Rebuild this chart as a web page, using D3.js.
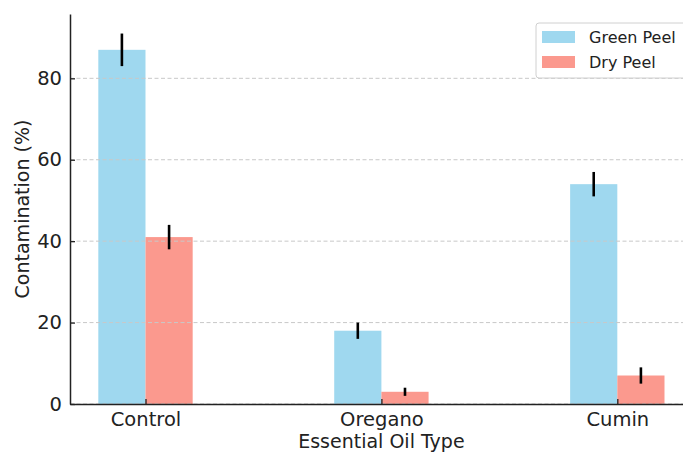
<!DOCTYPE html>
<html>
<head>
<meta charset="utf-8">
<script src="https://cdn.jsdelivr.net/npm/d3@7/dist/d3.min.js"></script>
<style>
  html, body { margin: 0; padding: 0; background: #fff; }
  svg { display: block; font-family: "DejaVu Sans", sans-serif; }
</style>
</head>
<body>
<svg id="chart" width="683" height="452"></svg>
<script>
// Contamination by essential oil treatment, green vs dry peel
const categories = ["Control", "Oregano", "Cumin"];
const greenPeel = [87, 18, 54];
const greenPeelErr = [4, 2, 3];
const dryPeel = [41, 3, 7];
const dryPeelErr = [3, 1, 2];
const yTicks = [0, 20, 40, 60, 80];
const seriesNames = ["Green Peel", "Dry Peel"];
const seriesColors = ["#9fd8ef", "#fb998e"];

const svg = d3.select("#chart");
const plotLeft = 70, plotRight = 692.8, plotTop = 14, plotBottom = 404;
const barW = 0.2;

const x = d3.scaleLinear().domain([-0.32, 2.32]).range([plotLeft, plotRight]);
const y = d3.scaleLinear().domain([0, 95.8]).range([plotBottom, plotTop]);

const series = [
  { name: seriesNames[0], values: greenPeel, err: greenPeelErr, offset: -barW / 2, color: seriesColors[0] },
  { name: seriesNames[1], values: dryPeel, err: dryPeelErr, offset: barW / 2, color: seriesColors[1] }
];

// bars
series.forEach(s => {
  svg.append("g").selectAll("rect")
    .data(s.values)
    .join("rect")
    .attr("x", (d, i) => x(i + s.offset - barW / 2))
    .attr("width", x(barW) - x(0))
    .attr("y", d => y(d))
    .attr("height", d => y(0) - y(d))
    .attr("fill", s.color);
});

// dashed horizontal grid
svg.append("g").selectAll("line")
  .data(yTicks)
  .join("line")
  .attr("x1", plotLeft).attr("x2", plotRight)
  .attr("y1", d => y(d)).attr("y2", d => y(d))
  .attr("stroke", "#c8c8c8")
  .attr("stroke-width", 1)
  .attr("stroke-dasharray", "4,2.5");

// error bars
series.forEach(s => {
  svg.append("g").selectAll("line")
    .data(s.values)
    .join("line")
    .attr("x1", (d, i) => x(i + s.offset)).attr("x2", (d, i) => x(i + s.offset))
    .attr("y1", (d, i) => y(d - s.err[i]))
    .attr("y2", (d, i) => y(d + s.err[i]))
    .attr("stroke", "#000")
    .attr("stroke-width", 2.6);
});

// axes
const yAxis = d3.axisLeft(y).tickValues(yTicks).tickSizeInner(-5).tickSizeOuter(0).tickPadding(8);
const xAxis = d3.axisBottom(x).tickValues(d3.range(categories.length))
  .tickFormat(i => categories[i]).tickSizeInner(-5).tickSizeOuter(0).tickPadding(8);

const gy = svg.append("g").attr("transform", `translate(${plotLeft},0)`).call(yAxis);
const gx = svg.append("g").attr("transform", `translate(0,${plotBottom})`).call(xAxis);
[gx, gy].forEach(g => {
  g.select(".domain").attr("stroke", "#222").attr("stroke-width", 1.5);
  g.selectAll(".tick line").attr("stroke", "#222").attr("stroke-width", 1.3);
  g.selectAll(".tick text").attr("fill", "#222")
    .style("font-family", "DejaVu Sans").style("font-size", "19.5px");
});

// axis titles
svg.append("text")
  .attr("x", (plotLeft + plotRight) / 2).attr("y", 447.5)
  .attr("text-anchor", "middle").attr("fill", "#222")
  .style("font-size", "19px")
  .text("Essential Oil Type");

svg.append("text")
  .attr("transform", `translate(29,${(plotTop + plotBottom) / 2}) rotate(-90)`)
  .attr("text-anchor", "middle").attr("fill", "#222")
  .style("font-size", "19px")
  .text("Contamination (%)");

// legend
const lg = svg.append("g").attr("transform", "translate(536,23)");
lg.append("rect")
  .attr("x", 0).attr("y", 0).attr("width", 170).attr("height", 55)
  .attr("rx", 3).attr("fill", "#fff").attr("fill-opacity", 0.8)
  .attr("stroke", "#d0d0d0").attr("stroke-width", 1);
series.forEach((s, i) => {
  lg.append("rect")
    .attr("x", 6).attr("y", 8 + i * 25).attr("width", 33).attr("height", 12)
    .attr("fill", s.color);
  lg.append("text")
    .attr("x", 53).attr("y", 20 + i * 25)
    .attr("fill", "#222").style("font-size", "16px")
    .text(s.name);
});
</script>
</body>
</html>
